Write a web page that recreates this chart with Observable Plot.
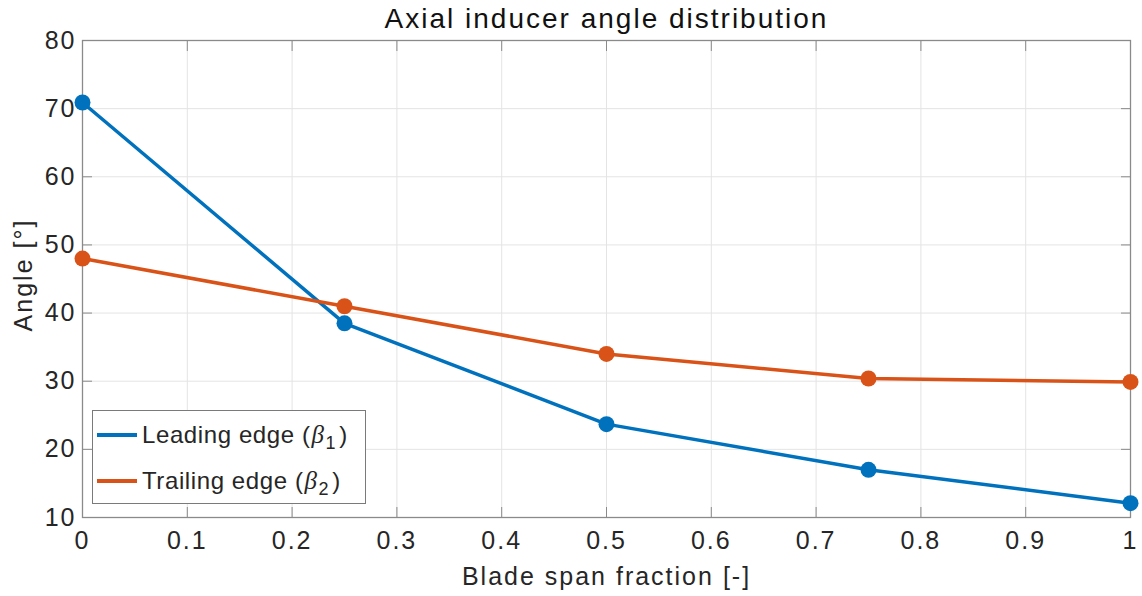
<!DOCTYPE html>
<html><head><meta charset="utf-8">
<script src="https://cdn.jsdelivr.net/npm/d3@7"></script>
<script src="https://cdn.jsdelivr.net/npm/@observablehq/plot@0.6"></script>
<style>
body{margin:0;background:#fff;}
#wrap{position:relative;width:1142px;height:596px;font-family:"Liberation Sans",Arial,sans-serif;color:#262626;}
#wrap svg text{letter-spacing:2px;}
#legend{position:absolute;left:92px;top:410px;width:274px;height:94px;border:1.3px solid #7a7a7a;background:#fff;box-sizing:border-box;font-size:24px;letter-spacing:0.6px;}
.row{position:absolute;left:4px;height:30px;display:flex;align-items:center;white-space:nowrap;}
.sw{width:40px;height:4px;margin-right:5px;}
.b{font-style:italic;font-family:"Liberation Serif",serif;font-size:25px;margin:0 1px;}
.sub{font-size:18px;position:relative;top:8px;margin-right:3px;}
</style></head>
<body><div id="wrap"></div>
<script>
const span = [0, 0.25, 0.5, 0.75, 1];
const leading = [70.9, 38.5, 23.7, 17.0, 12.1];
const trailing = [48.0, 41.0, 34.0, 30.4, 29.9];
const seriesNames = ["Leading edge", "Trailing edge"];
const colors = ["#0072BD", "#D95319"];
const xTicks = [0,0.1,0.2,0.3,0.4,0.5,0.6,0.7,0.8,0.9,1];
const yTicks = [10,20,30,40,50,60,70,80];

const data = [];
span.forEach((s,i)=>{
  data.push({x:s, y:leading[i], s:seriesNames[0]});
  data.push({x:s, y:trailing[i], s:seriesNames[1]});
});
const fmt = d => String(d);
const axisCol = "#8a8a8a";
const font = "'Liberation Sans', Arial, sans-serif";
const chart = Plot.plot({
  width:1142, height:596,
  marginLeft:82, marginRight:12, marginTop:40, marginBottom:79,
  style:{fontFamily:font, fontSize:"25px", color:"#262626", background:"#fff"},
  x:{domain:[0,1]},
  y:{domain:[10,80]},
  color:{domain:seriesNames, range:colors},
  marks:[
    Plot.gridX(xTicks,{stroke:"#e4e4e4", strokeOpacity:1}),
    Plot.gridY(yTicks,{stroke:"#e4e4e4", strokeOpacity:1}),
    Plot.frame({stroke:axisCol, strokeWidth:1.3}),
    Plot.axisX(xTicks,{anchor:"bottom", tickSize:-10, tickPadding:24, tickFormat:fmt, stroke:axisCol, fill:"#262626", fontSize:25, label:null}),
    Plot.axisX(xTicks,{anchor:"top", tickSize:-10, tickFormat:null, stroke:axisCol, label:null, text:null}),
    Plot.axisY(yTicks,{anchor:"left", tickSize:-10, tickPadding:16, tickFormat:fmt, stroke:axisCol, fill:"#262626", fontSize:25, label:null}),
    Plot.axisY(yTicks,{anchor:"right", tickSize:-10, stroke:axisCol, label:null, text:null}),
    Plot.line(data,{x:"x", y:"y", stroke:"s", strokeWidth:3.5}),
    Plot.dot(data,{x:"x", y:"y", fill:"s", r:8}),
    Plot.text(["Axial inducer angle distribution"],{frameAnchor:"top", dy:-32, fontSize:28, fill:"#111"}),
    Plot.text(["Blade span fraction [-]"],{frameAnchor:"bottom", dy:67, fontSize:25, fill:"#262626"}),
    Plot.text(["Angle [°]"],{frameAnchor:"left", textAnchor:"middle", dx:-59, dy:-4, rotate:-90, fontSize:25, fill:"#262626"})
  ]
});
const wrap = document.getElementById("wrap");
wrap.appendChild(chart);
const leg = document.createElement("div");
leg.id="legend";
leg.innerHTML = `<div class="row" style="top:9px"><div class="sw" style="background:${colors[0]}"></div>${seriesNames[0]} (<span class="b">β</span><span class="sub">1</span>)</div>
<div class="row" style="top:55px"><div class="sw" style="background:${colors[1]}"></div>${seriesNames[1]} (<span class="b">β</span><span class="sub">2</span>)</div>`;
wrap.appendChild(leg);
</script></body></html>
